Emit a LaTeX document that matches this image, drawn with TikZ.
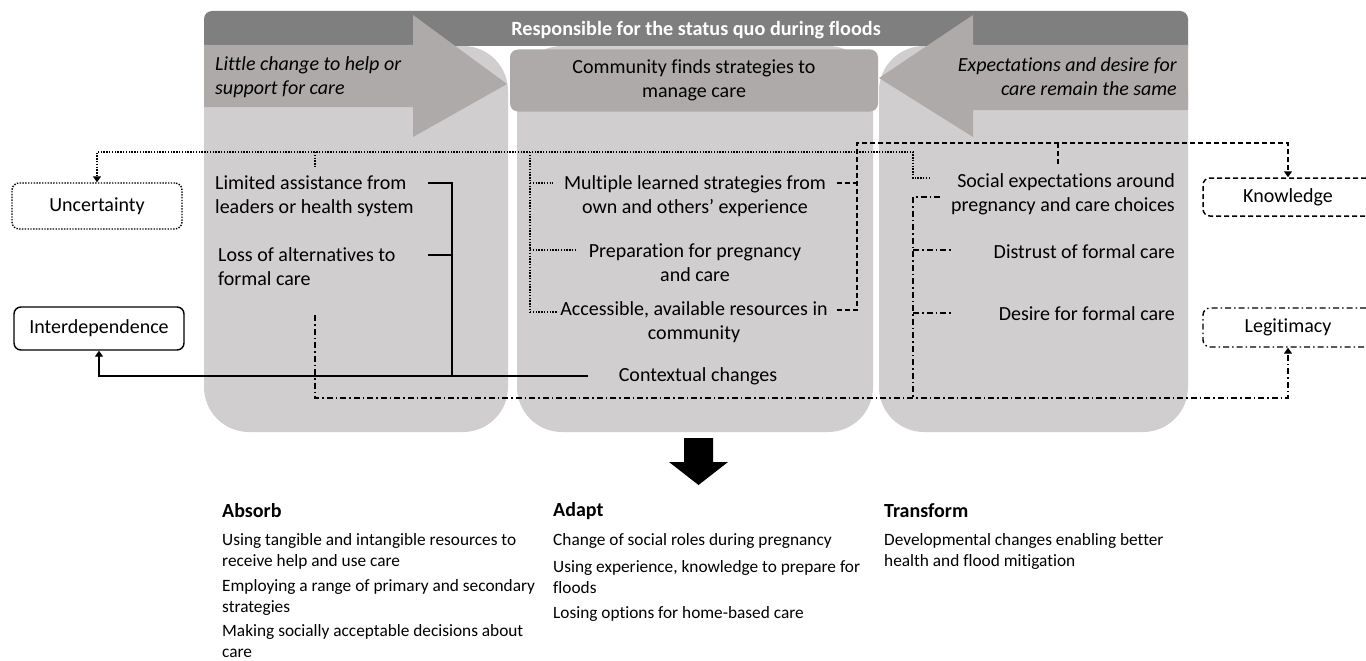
\documentclass[tikz,border=0pt]{standalone}
\usepackage{fontspec}
\setmainfont{Carlito}[Ligatures={NoCommon,NoContextual}]
\usetikzlibrary{arrows.meta}
\definecolor{barc}{HTML}{7F7F7F}
\definecolor{arrc}{HTML}{AEAAAA}
\definecolor{colc}{HTML}{D0CECE}
\begin{document}
\begin{tikzpicture}[x=1pt,y=-1pt,
  txt/.style={font=\fontsize{20}{24}\selectfont, inner sep=0pt},
  btxt/.style={font=\fontsize{17.3}{21}\selectfont, inner sep=0pt, align=left, anchor=west},
  bhead/.style={font=\fontsize{20}{22}\selectfont\bfseries, inner sep=0pt, anchor=west},
  lab/.style={rounded corners=7pt, minimum width=170pt, font=\fontsize{20}{24}\selectfont, line width=1.3pt, inner sep=0pt},
  conn/.style={line width=1.4pt},
  dotline/.style={line width=1.4pt, dash pattern=on 1.4pt off 1.4pt},
  dashline/.style={line width=1.5pt, dash pattern=on 5pt off 3pt},
  ddline/.style={line width=1.4pt, dash pattern=on 6pt off 3pt on 1.5pt off 3pt},
  tip/.style={-{Triangle[width=8pt,length=6pt]}}
]
\useasboundingbox[fill=white] (0,0) rectangle (1366,661);

% columns
\fill[colc, rounded corners=45pt] (204,46) rectangle (508,432);
\fill[colc, rounded corners=45pt] (517,46) rectangle (873,432);
\fill[colc, rounded corners=45pt] (879,46) rectangle (1188,432);

% top bar
\fill[barc] (204,46) [rounded corners=8pt] -- (204,11) -- (1188,11) [sharp corners] -- (1188,46) -- cycle;
\node[font=\fontsize{20.2}{24}\selectfont\bfseries, text=white, inner sep=0pt] (resp) at (696,30) {Responsible for the status quo during floods};

% big arrows
\fill[arrc] (204,45) -- (413,45) -- (413,15) -- (507,84) -- (413,137) -- (413,107) -- (204,107) -- cycle;
\fill[arrc] (1188,45) -- (973,45) -- (973,15) -- (879,78) -- (973,137) -- (973,110) -- (1188,110) -- cycle;

% middle header
\node[fill=arrc, rounded corners=8pt, minimum width=368pt, minimum height=62pt, align=center, txt] (comm) at (694,80.5) {Community finds strategies to\\manage care};

\node[txt, anchor=west, align=left, font=\fontsize{20}{24}\selectfont\itshape] (lit) at (215,77) {Little change to help or\\support for care};
\node[txt, anchor=east, align=right, font=\fontsize{20}{24}\selectfont\itshape] (expn) at (1177,77) {Expectations and desire for\\care remain the same};

% column texts
\node[txt, anchor=west, align=left] (lim) at (215,196) {Limited assistance from\\leaders or health system};
\node[txt, anchor=west, align=left] (loss) at (218,267) {Loss of alternatives to\\formal care};
\node[txt, align=center] (mult) at (695,196.5) {Multiple learned strategies from\\own and others’ experience};
\node[txt, align=center] (prep) at (695,263) {Preparation for pregnancy\\and care};
\node[txt, align=center] (acc) at (694,322.5) {Accessible, available resources in\\community};
\node[txt] (ctx) at (698,376) {Contextual changes};
\node[txt, anchor=east, align=right] (soc) at (1175,194.5) {Social expectations around\\pregnancy and care choices};
\node[txt, anchor=east] (dis) at (1175,252) {Distrust of formal care};
\node[txt, anchor=east] (des) at (1175,314) {Desire for formal care};

% side boxes
\node[lab, draw, dotline, minimum height=46pt] (unc) at (97,206) {Uncertainty};
\node[lab, draw, conn, minimum height=43pt] (inter) at (99,328.5) {Interdependence};
\node[lab, draw, dashline, minimum height=38pt] (know) at (1288,197) {Knowledge};
\node[lab, draw, ddline, minimum height=39pt] (legit) at (1288,327.5) {Legitimacy};

% dotted connectors
\coordinate (dotS) at (930,178);
\draw[dotline, tip] (dotS) -- (913,178) -- (913,152) -- (97,152) -- (unc.north);
\draw[dotline] (315,152) -- (315,168);
\draw[dotline] (530,152) -- (530,312);
\draw[dotline] (530,183) -- (553,183);
\draw[dotline] (530,250) -- (577,250);
\draw[dotline] (530,312) -- (557,312);

% dashed connectors
\draw[dashline] (837,183) -- (857,183);
\draw[dashline, tip] (837,310) -- (857,310) -- (857,143) -| (know.north);
\draw[dashline] (1058,143) -- (1058,165);

% dash-dot connectors
\draw[ddline, tip] (315,315) -- (315,398) -| (legit.south);
\draw[ddline] (940,197) -- (913,197) -- (913,398);
\draw[ddline] (913,250) -- (953,250);
\draw[ddline] (913,313) -- (953,313);

% solid connectors
\draw[conn] (428,183) -- (452,183) -- (452,376);
\draw[conn] (428,255) -- (452,255);
\draw[conn, tip] (588,376) -| (inter.south);

% block arrow down
\fill[black] (684,438) -- (713,438) -- (713,462) -- (728,462) -- (698.5,485) -- (669,462) -- (684,462) -- cycle;

% bottom texts
\node[bhead] (absH) at (222,511) {Absorb};
\node[btxt] (abs1) at (222,551) {Using tangible and intangible resources to\\receive help and use care};
\node[btxt] (abs2) at (222,597) {Employing a range of primary and secondary\\strategies};
\node[btxt] (abs3) at (222,641.5) {Making socially acceptable decisions about\\care};
\node[bhead] (adH) at (553,511) {Adapt};
\node[btxt] (ad1) at (553,540.5) {Change of social roles during pregnancy};
\node[btxt] (ad2) at (553,577) {Using experience, knowledge to prepare for\\floods};
\node[btxt] (ad3) at (553,613.5) {Losing options for home-based care};
\node[bhead] (trH) at (884,511) {Transform};
\node[btxt] (tr1) at (884,551) {Developmental changes enabling better\\health and flood mitigation};
\end{tikzpicture}
\end{document}
